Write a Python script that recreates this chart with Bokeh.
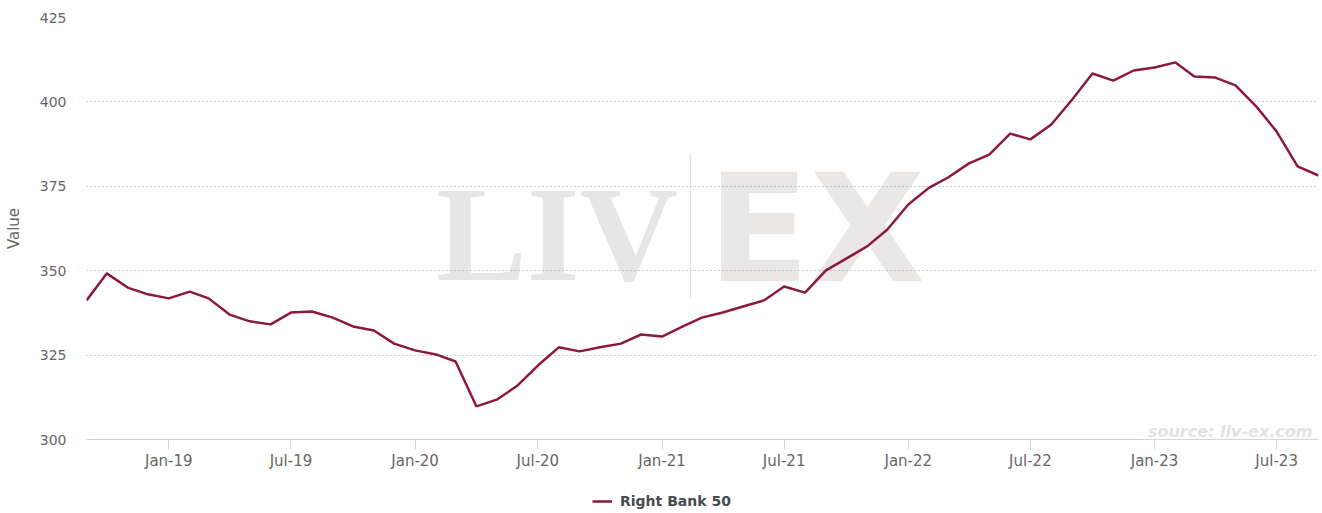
import pandas as pd
from bokeh.plotting import figure
from bokeh.layouts import column
from bokeh.models import (Range1d, FixedTicker, MonthsTicker, DatetimeTickFormatter,
                          Legend, LegendItem, Label, BoxAnnotation)
from bokeh.embed import file_html
from bokeh.resources import INLINE

# ---------------- data ----------------
series_name = "Right Bank 50"
start_month = "2018-09-01"
values = [
    341.2, 349.2, 345.0, 343.0,
    341.8, 343.8, 341.8, 337.0, 335.0, 334.1, 337.6, 337.9, 336.1, 333.5, 332.3, 328.4,
    326.4, 325.2, 323.1, 309.8, 311.8, 316.0, 321.9, 327.3, 326.1, 327.3, 328.4, 331.1,
    330.5, 333.5, 336.1, 337.6, 339.4, 341.2, 345.3, 343.5, 350.1, 353.6, 357.2, 362.2,
    369.6, 374.6, 377.6, 381.8, 384.4, 390.6, 388.9, 393.3, 400.7, 408.4, 406.3, 409.3,
    410.2, 411.7, 407.5, 407.2, 404.9, 398.6, 391.2, 380.9, 378.2,
]
y_ticks = [300, 325, 350, 375, 400, 425]
dates = pd.date_range(start_month, periods=len(values), freq="MS")

LINE_COLOR = "#8B1A3D"

def ms(s):
    return pd.Timestamp(s).timestamp() * 1000.0

x_start = ms(dates[0])
x_end = ms(dates[-1])

# ---------------- main figure ----------------
p = figure(width=1322, height=478, x_axis_type="datetime",
           output_backend="svg", toolbar_location=None,
           x_range=Range1d(x_start, x_end), y_range=Range1d(300, 425),
           min_border_left=86, min_border_right=4, min_border_top=17,
           min_border_bottom=39)
p.outline_line_color = None
p.background_fill_color = "white"
p.border_fill_color = "white"

# watermark
p.add_layout(Label(x=ms("2020-02-01"), y=360.9, text="LIV", text_font="Liberation Serif",
                   text_font_style="bold", text_font_size="136px", text_color="#e6e6e6",
                   text_baseline="alphabetic", level="image"))
p.add_layout(Label(x=ms("2021-03-09"), y=362.4, text="EX", text_font="DejaVu Sans",
                   text_font_style="bold", text_font_size="150px", text_color="#ebe7e5",
                   text_baseline="alphabetic", level="image"))
p.add_layout(BoxAnnotation(left=ms("2021-02-11"), right=ms("2021-02-13"),
                           bottom=342.1, top=384.7, fill_color="#e3e3e3", fill_alpha=1,
                           line_alpha=0, level="image"))

r = p.line(dates, values, line_color=LINE_COLOR, line_width=2.5)

# grid
p.xgrid.grid_line_color = None
p.ygrid.grid_line_color = "#9a9a9a"
p.ygrid.grid_line_dash = "1 3"
p.ygrid.grid_line_width = 1
p.ygrid.ticker = FixedTicker(ticks=y_ticks)

# y axis
p.yaxis.ticker = FixedTicker(ticks=y_ticks)
p.yaxis.axis_line_color = None
p.yaxis.major_tick_line_color = None
p.yaxis.major_tick_out = 0
p.yaxis.major_tick_in = 0
p.yaxis.minor_tick_line_color = None
p.yaxis.major_label_standoff = 20
p.yaxis.major_label_text_font = "DejaVu Sans"
p.yaxis.major_label_text_font_size = "14px"
p.yaxis.major_label_text_color = "#666666"
p.yaxis.axis_label = "Value"
p.yaxis.axis_label_text_font = "DejaVu Sans"
p.yaxis.axis_label_text_font_style = "normal"
p.yaxis.axis_label_text_font_size = "15px"
p.yaxis.axis_label_text_color = "#666666"
p.yaxis.axis_label_standoff = 14

# x axis
p.xaxis.ticker = MonthsTicker(months=[0, 6])
p.xaxis.formatter = DatetimeTickFormatter(months="%b-%y", years="%b-%y", days="%b-%y")
p.xaxis.axis_line_color = "#ccd6eb"
p.xaxis.major_tick_line_color = "#ccd6eb"
p.xaxis.major_tick_out = 10
p.xaxis.major_tick_in = 0
p.xaxis.minor_tick_line_color = None
p.xaxis.major_label_standoff = 2
p.xaxis.major_label_text_font = "DejaVu Sans"
p.xaxis.major_label_text_font_size = "15px"
p.xaxis.major_label_text_color = "#666666"

# source credit
p.add_layout(Label(x=x_end, x_offset=-6, y=302.4, text="source: liv-ex.com",
                   text_font="DejaVu Sans", text_font_style="bold italic",
                   text_font_size="16px", text_color="#e2e2e2", text_align="right",
                   text_baseline="alphabetic"))

# ---------------- legend strip ----------------
pl = figure(width=1322, height=35, x_axis_type="datetime",
            output_backend="svg", toolbar_location=None,
            x_range=p.x_range, y_range=p.y_range,
            min_border_left=0, min_border_right=0, min_border_top=0,
            min_border_bottom=0)
pl.axis.visible = False
pl.grid.visible = False
pl.outline_line_color = None
pl.background_fill_color = "white"
pl.border_fill_color = "white"
r_leg = pl.line(dates, values, line_color=LINE_COLOR, line_width=2.5, visible=False)

legend = Legend(items=[LegendItem(label=series_name, renderers=[r_leg])],
                location=(506, 2), orientation="horizontal",
                border_line_alpha=0, background_fill_alpha=0,
                inactive_fill_alpha=0,
                label_text_font="DejaVu Sans", label_text_font_size="14px",
                label_text_font_style="bold", label_text_color="#464a50",
                glyph_width=20, glyph_height=20, label_height=20,
                label_standoff=8, padding=0, margin=0)
pl.add_layout(legend)

layout = column(p, pl, spacing=0)
open("out.html", "w").write(file_html(layout, INLINE))
